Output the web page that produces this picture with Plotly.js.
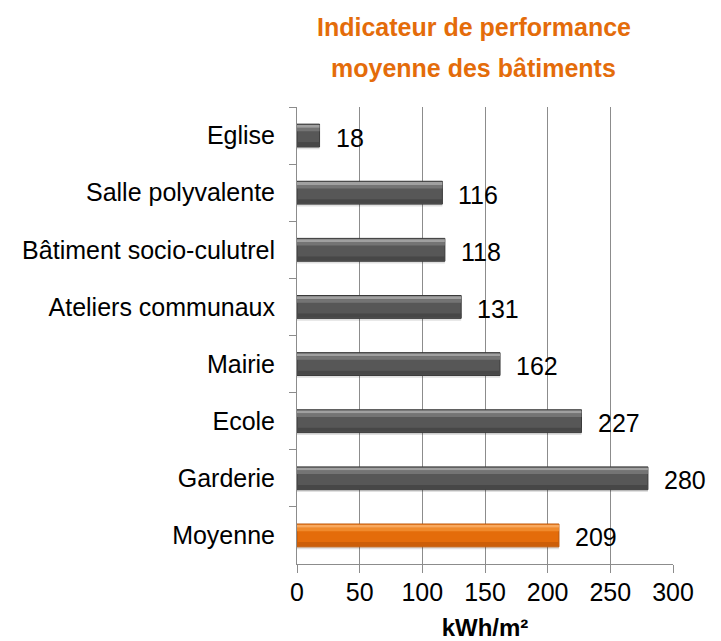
<!DOCTYPE html>
<html>
<head>
<meta charset="utf-8">
<script src="https://cdn.plot.ly/plotly-3.0.1.min.js"></script>
<style>html,body{margin:0;padding:0;background:#fff;}#chart{width:721px;height:641px;}</style>
</head>
<body>
<div id="chart"></div>
<script>
// Data (top to bottom as shown)
const categories = ["Eglise", "Salle polyvalente", "Bâtiment socio-culutrel", "Ateliers communaux", "Mairie", "Ecole", "Garderie", "Moyenne"];
const values = [18, 116, 118, 131, 162, 227, 280, 209];
const xTickValues = [0, 50, 100, 150, 200, 250, 300];
const chartTitleLines = ["Indicateur de performance", "moyenne des bâtiments"];
const xAxisTitle = "kWh/m²";

const FONT = "Arial, 'Liberation Sans', sans-serif";
const isAvg = c => c === "Moyenne";
const body = categories.map(c => isAvg(c) ? "#E46C0A" : "#575757");
const edge = categories.map(c => isAvg(c) ? "#B9560A" : "#3A3A3A");
const light = categories.map(c => isAvg(c) ? "#F9A95E" : "#A0A0A0");
const mid = categories.map(c => isAvg(c) ? "#F08A2C" : "#747474");
const dark = categories.map(c => isAvg(c) ? "#CC5E08" : "#474747");

const W = 0.4, H = W / 2;
function layer(width, offset, color, line) {
  return {
    type: "bar", orientation: "h", y: categories, x: values,
    width: width, offset: offset,
    marker: {color: color, line: line || {width: 0}},
    hoverinfo: "skip", showlegend: false
  };
}
const traces = [
  layer(W, -H + 0.04, "rgba(0,0,0,0.12)"),
  layer(W, -H, body, {color: edge, width: 1}),
  layer(0.05, -H + 0.015, light),
  layer(0.06, -H + 0.065, mid),
  layer(0.07, H - 0.085, dark)
];

const annotations = categories.map((c, i) => ({
  x: values[i], y: c, xref: "x", yref: "y",
  text: String(values[i]), showarrow: false,
  xanchor: "left", yanchor: "middle", xshift: 14, yshift: -2,
  font: {family: FONT, size: 25, color: "#000"}
}));
annotations.push({
  text: chartTitleLines[0], xref: "paper", yref: "paper", x: 0.47, y: 1, yshift: 80,
  showarrow: false, xanchor: "center", yanchor: "middle",
  font: {family: FONT, size: 25, color: "#E46C0A", weight: "bold"}
});
annotations.push({
  text: chartTitleLines[1], xref: "paper", yref: "paper", x: 0.47, y: 1, yshift: 39,
  showarrow: false, xanchor: "center", yanchor: "middle",
  font: {family: FONT, size: 25, color: "#E46C0A", weight: "bold"}
});

const layout = {
  width: 721, height: 641,
  margin: {l: 297, r: 48, t: 107, b: 77, pad: 0},
  paper_bgcolor: "#fff", plot_bgcolor: "#fff",
  barmode: "overlay",
  font: {family: FONT, size: 25, color: "#000"},
  xaxis: {
    range: [0, 300], tickvals: xTickValues, ticktext: xTickValues.map(String),
    showgrid: true, gridcolor: "#8C8C8C", gridwidth: 1,
    showline: true, linecolor: "#8C8C8C", linewidth: 1,
    ticks: "outside", ticklen: 8, tickcolor: "#8C8C8C",
    zeroline: false, tickfont: {size: 25, family: FONT},
    ticklabelstandoff: -2,
    title: {text: xAxisTitle, font: {size: 24, family: FONT, weight: "bold"}, standoff: 22}
  },
  yaxis: {
    type: "category", autorange: "reversed",
    showgrid: false, showline: true, linecolor: "#8C8C8C", linewidth: 1,
    ticks: "outside", tickson: "boundaries", ticklen: 7, tickcolor: "#8C8C8C",
    tickfont: {size: 25, family: FONT}, ticklabelstandoff: 16,
    zeroline: false
  },
  annotations: annotations
};

Plotly.newPlot("chart", traces, layout, {displayModeBar: false, staticPlot: true});
</script>
</body>
</html>
